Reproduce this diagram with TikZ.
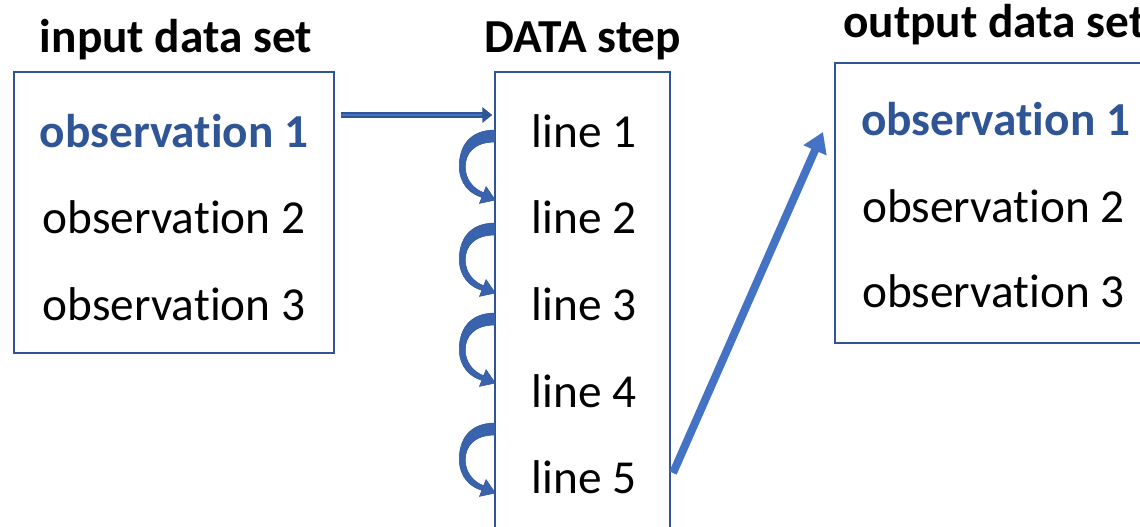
\documentclass[tikz,border=0pt]{standalone}
\usepackage{fontspec}
\setmainfont{Carlito}[Ligatures={NoCommon,NoContextual},RawFeature={-calt}]
\usetikzlibrary{arrows.meta}
\definecolor{boxblue}{HTML}{2F5597}
\definecolor{arrblue}{HTML}{4472C4}
\definecolor{curvblue}{HTML}{3A63AE}

\begin{document}
\begin{tikzpicture}[x=0.75pt,y=-0.75pt,
    txt/.style={anchor=base,inner sep=0pt,font=\fontsize{35.5}{40}\selectfont},
    title/.style={txt,font=\fontsize{35.5}{40}\selectfont\bfseries},
    obsone/.style={txt,font=\fontsize{35.5}{40}\selectfont\bfseries,text=boxblue},
    box/.style={draw=boxblue,line width=1.1pt,inner sep=0pt},
    flatarrow/.style={draw=boxblue,line width=4.4pt,-{Triangle[length=7.5pt,width=11.5pt]}},
    bigarrow/.style={draw=arrblue,line width=6pt,-{Triangle[length=15pt,width=18pt]}},
    turnarrow/.pic={
        \fill[curvblue,draw=boxblue,line width=0.4pt]
            (1,0) .. controls (-26,0) and (-35,18) .. (-35,36)
            .. controls (-35,54) and (-24,64) .. (-12.4,67.3)
            -- (-14.8,73.4) -- (1,70) -- (-8.2,56.6) -- (-10.6,62.7)
            .. controls (-21,59) and (-29,49) .. (-29,37)
            .. controls (-29,24) and (-21,12) .. (1,12) -- cycle;
    }]
    \useasboundingbox (0,0) rectangle (1140,526);

    % boxes
    \node[box,minimum width=240pt,minimum height=210.75pt] (inbox) at (174,212.5) {};
    \node[box,minimum width=131.25pt,minimum height=351pt] (dstep) at (582.5,306) {};
    \node[box,minimum width=236.25pt,minimum height=210pt] (outbox) at (992.5,203) {};

    % titles
    \node[title] (tin) at (176,52) {input data set};
    \node[title] (tstep) at (583,52) {DATA step};
    \node[title,anchor=base west] (tout) at (843,37) {output data set};

    % input data set
    \node[obsone] (in1) at (174,147) {observation 1};
    \node[txt] (in2) at (174,233) {observation 2};
    \node[txt] (in3) at (174,320) {observation 3};

    % DATA step lines
    \foreach \i/\y in {1/147,2/233,3/320,4/407,5/493}
        \node[txt] (l\i) at (584,\y) {line \i};

    % output data set
    \node[obsone,anchor=base west] (out1) at (861,135) {observation 1};
    \node[txt,anchor=base west] (out2) at (862,222) {observation 2};
    \node[txt,anchor=base west] (out3) at (862,307) {observation 3};

    \coordinate (p5) at (673,473);
    \coordinate (q1) at (823,132);
    \draw[flatarrow] ([xshift=4.5pt]inbox.east |- 0,115) -- ([xshift=-1.5pt]dstep.west |- 0,115);
    \draw[arrblue,line width=1.4pt] ([xshift=5pt]inbox.east |- 0,115) -- ([xshift=-9pt]dstep.west |- 0,115);
    \foreach \y in {130,223,313,423}
        \pic at (dstep.west |- 0,\y) {turnarrow};
    \draw[bigarrow] (p5) -- (q1);
\end{tikzpicture}
\end{document}
